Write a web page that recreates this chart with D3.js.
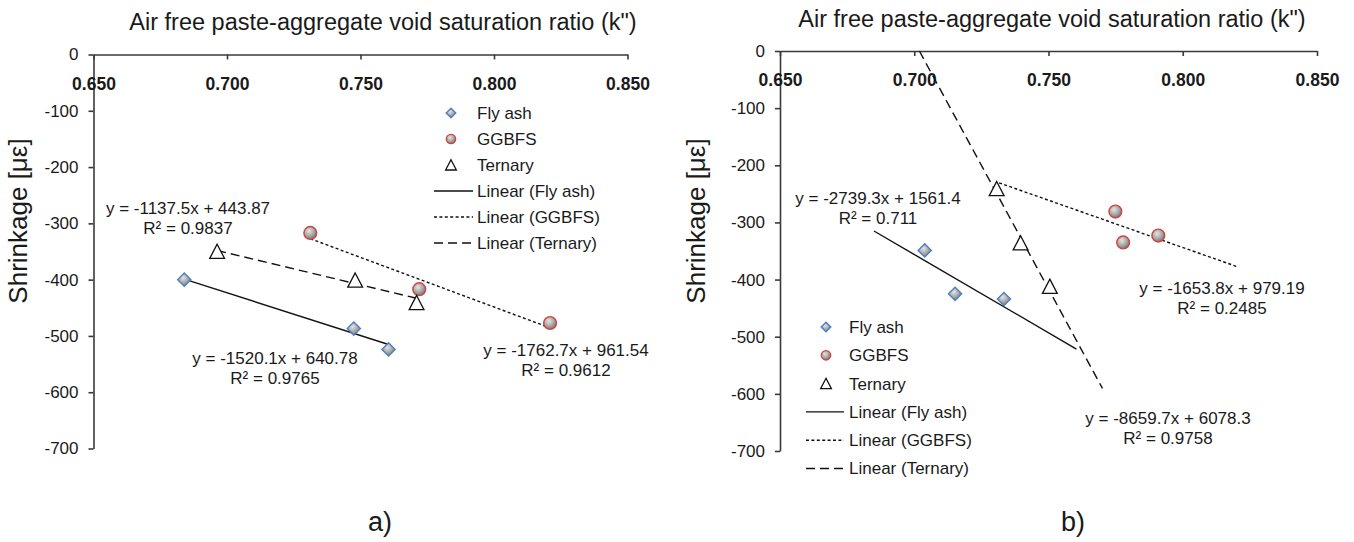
<!DOCTYPE html>
<html>
<head>
<meta charset="utf-8">
<script src="https://cdn.jsdelivr.net/npm/d3@7"></script>
<style>
  html, body { margin: 0; padding: 0; background: #fff; }
  svg text { font-family: "Liberation Sans", Arial, sans-serif; fill: #1a1a1a; }
</style>
</head>
<body>
<svg id="chart" width="1354" height="542"></svg>
<script>
// Axis ticks shared by both panels
const xTicks = [0.65, 0.70, 0.75, 0.80, 0.85];
const yTicks = [0, -100, -200, -300, -400, -500, -600, -700];
const seriesNames = ["Fly ash", "GGBFS", "Ternary"];
const titleText = "Air free paste-aggregate void saturation ratio (k\")";
const yTitleText = "Shrinkage [με]";

// Panel a) measurements
const aFlyAshX = [0.684, 0.7475, 0.7605];
const aFlyAshY = [-400, -487, -524];
const aGgbfsX = [0.7312, 0.772, 0.821];
const aGgbfsY = [-317, -417, -477];
const aTernaryX = [0.6963, 0.748, 0.771];
const aTernaryY = [-350, -401, -441];
// Panel a) linear fits: [Fly ash, GGBFS, Ternary]
const aSlopes = [-1520.1, -1762.7, -1137.5];
const aIntercepts = [640.78, 961.54, 443.87];
const aR2 = [0.9765, 0.9612, 0.9837];
const aFitFrom = [0.684, 0.7312, 0.6963];
const aFitTo = [0.7605, 0.821, 0.771];

// Panel b) measurements
const bFlyAshX = [0.7039, 0.7152, 0.7334];
const bFlyAshY = [-349, -425, -434];
const bGgbfsX = [0.7749, 0.7778, 0.7909];
const bGgbfsY = [-281, -335, -323];
const bTernaryX = [0.7307, 0.7396, 0.7505];
const bTernaryY = [-241, -336, -412];
// Panel b) linear fits: [Fly ash, GGBFS, Ternary]
const bSlopes = [-2739.3, -1653.8, -8659.7];
const bIntercepts = [1561.4, 979.19, 6078.3];
const bR2 = [0.711, 0.2485, 0.9758];
const bFitFrom = [0.685, 0.7316, 0.70191];
const bFitTo = [0.7604, 0.8206, 0.7701];

const svg = d3.select("#chart");
const FONT = 17;

// Shaded grey fill used by the diamond and circle markers
const defs = svg.append("defs");
const grad = defs.append("radialGradient").attr("id", "markerFill")
  .attr("cx", "40%").attr("cy", "35%").attr("r", "70%");
grad.append("stop").attr("offset", "0%").attr("stop-color", "#e4e4e4");
grad.append("stop").attr("offset", "55%").attr("stop-color", "#a8a8a8");
grad.append("stop").attr("offset", "100%").attr("stop-color", "#6e6e6e");

const lineDash = ["none", "3,2.4", "9,5"];

function drawMarker(g, kind, cx, cy, s) {
  if (kind === 0) {
    g.append("path")
      .attr("d", `M${cx},${cy - s}L${cx + s},${cy}L${cx},${cy + s}L${cx - s},${cy}Z`)
      .attr("fill", "url(#markerFill)").attr("stroke", "#4f81bd").attr("stroke-width", 1.4);
  } else if (kind === 1) {
    g.append("circle").attr("cx", cx).attr("cy", cy).attr("r", s * 0.97)
      .attr("fill", "url(#markerFill)").attr("stroke", "#d0443e").attr("stroke-width", 1.4);
  } else {
    const h = s * 1.1;
    g.append("path")
      .attr("d", `M${cx},${cy - h}L${cx + s * 1.12},${cy + h * 0.95}L${cx - s * 1.12},${cy + h * 0.95}Z`)
      .attr("fill", "#fff").attr("stroke", "#111").attr("stroke-width", 1.3);
  }
}

function drawPanel(p) {
  const g = svg.append("g");
  const x = d3.scaleLinear().domain([0.65, 0.85]).range([p.left, p.right]);
  const y = d3.scaleLinear().domain([0, -700]).range([p.top, p.bottom]);

  // Title above the axis
  g.append("text").attr("x", p.titleX).attr("y", p.titleY)
    .attr("text-anchor", "middle").style("font-size", "23.5px").text(titleText);

  // Vertical axis
  const yAxis = g.append("g").attr("transform", `translate(${p.left},0)`)
    .call(d3.axisLeft(y).tickValues(yTicks).tickSize(5).tickSizeOuter(0)
      .tickPadding(10).tickFormat(d => String(d)));
  yAxis.selectAll("text").style("font-size", FONT + "px").style("font-family", "Liberation Sans, Arial, sans-serif").attr("fill", "#1a1a1a");

  // Horizontal axis crossing at zero
  const xAxis = g.append("g").attr("transform", `translate(0,${p.top})`)
    .call(d3.axisBottom(x).tickValues(xTicks).tickSize(5).tickSizeOuter(0)
      .tickPadding(18).tickFormat(d3.format(".3f")));
  xAxis.selectAll("text").style("font-size", "17.5px").style("font-weight", "bold")
    .style("font-family", "Liberation Sans, Arial, sans-serif").attr("fill", "#1a1a1a");

  [yAxis, xAxis].forEach(a => {
    a.selectAll("path, line").attr("stroke", "#3a3a3a").attr("stroke-width", 1.6);
  });

  // Axis title
  g.append("text")
    .attr("transform", `translate(${p.yTitleX},${p.yTitleY}) rotate(-90)`)
    .attr("text-anchor", "middle").style("font-size", "26px").text(yTitleText);

  // Linear fits
  const plotLine = d3.line().x(d => x(d[0])).y(d => y(d[1]));
  p.slopes.forEach((m, i) => {
    const pts = [p.fitFrom[i], p.fitTo[i]].map(v => [v, m * v + p.intercepts[i]]);
    g.append("path").attr("d", plotLine(pts)).attr("fill", "none")
      .attr("stroke", "#111").attr("stroke-width", 1.4)
      .attr("stroke-dasharray", lineDash[i]);
  });

  // Points
  p.series.forEach((s, k) => {
    s.xs.forEach((xv, j) => drawMarker(g, k, x(xv), y(s.ys[j]), 6.6));
  });

  // Fit equations
  p.slopes.forEach((m, i) => {
    const lp = p.labelPos[i];
    g.append("text").attr("x", lp[0]).attr("y", lp[1]).attr("text-anchor", "middle")
      .style("font-size", FONT + "px").text(`y = ${m}x + ${p.intercepts[i]}`);
    g.append("text").attr("x", lp[0]).attr("y", lp[1] + 20).attr("text-anchor", "middle")
      .style("font-size", FONT + "px").text(`R² = ${p.r2[i]}`);
  });

  // Legend
  const legendLabels = seriesNames.concat(seriesNames.map(n => `Linear (${n})`));
  legendLabels.forEach((lab, i) => {
    const ly = p.legY + i * p.legStep;
    if (i < 3) {
      drawMarker(g, i, p.legMarkX, ly, 4.8);
    } else {
      g.append("line").attr("x1", p.legLine[0]).attr("x2", p.legLine[1])
        .attr("y1", ly).attr("y2", ly).attr("stroke", "#111").attr("stroke-width", 1.4)
        .attr("stroke-dasharray", lineDash[i - 3]);
    }
    g.append("text").attr("x", p.legTextX).attr("y", ly).attr("dy", "0.35em")
      .style("font-size", FONT + "px").text(lab);
  });

  // Panel caption
  g.append("text").attr("x", p.capX).attr("y", 531).attr("text-anchor", "middle")
    .style("font-size", "27px").text(p.caption);
}

drawPanel({
  left: 93.5, right: 627.5, top: 54.5, bottom: 448.5,
  titleX: 383, titleY: 30, yTitleX: 27, yTitleY: 221,
  slopes: aSlopes, intercepts: aIntercepts, r2: aR2, fitFrom: aFitFrom, fitTo: aFitTo,
  series: [{ xs: aFlyAshX, ys: aFlyAshY }, { xs: aGgbfsX, ys: aGgbfsY }, { xs: aTernaryX, ys: aTernaryY }],
  labelPos: [[275, 364], [566, 356], [188, 214]],
  legY: 113, legStep: 26, legMarkX: 451, legTextX: 477, legLine: [434, 473],
  capX: 380, caption: "a)"
});

drawPanel({
  left: 780, right: 1317, top: 51, bottom: 451,
  titleX: 1052, titleY: 27, yTitleX: 705, yTitleY: 221,
  slopes: bSlopes, intercepts: bIntercepts, r2: bR2, fitFrom: bFitFrom, fitTo: bFitTo,
  series: [{ xs: bFlyAshX, ys: bFlyAshY }, { xs: bGgbfsX, ys: bGgbfsY }, { xs: bTernaryX, ys: bTernaryY }],
  labelPos: [[878, 204], [1222, 294], [1168, 424]],
  legY: 327, legStep: 28.3, legMarkX: 826, legTextX: 849, legLine: [806, 844],
  capX: 1073, caption: "b)"
});
</script>
</body>
</html>
